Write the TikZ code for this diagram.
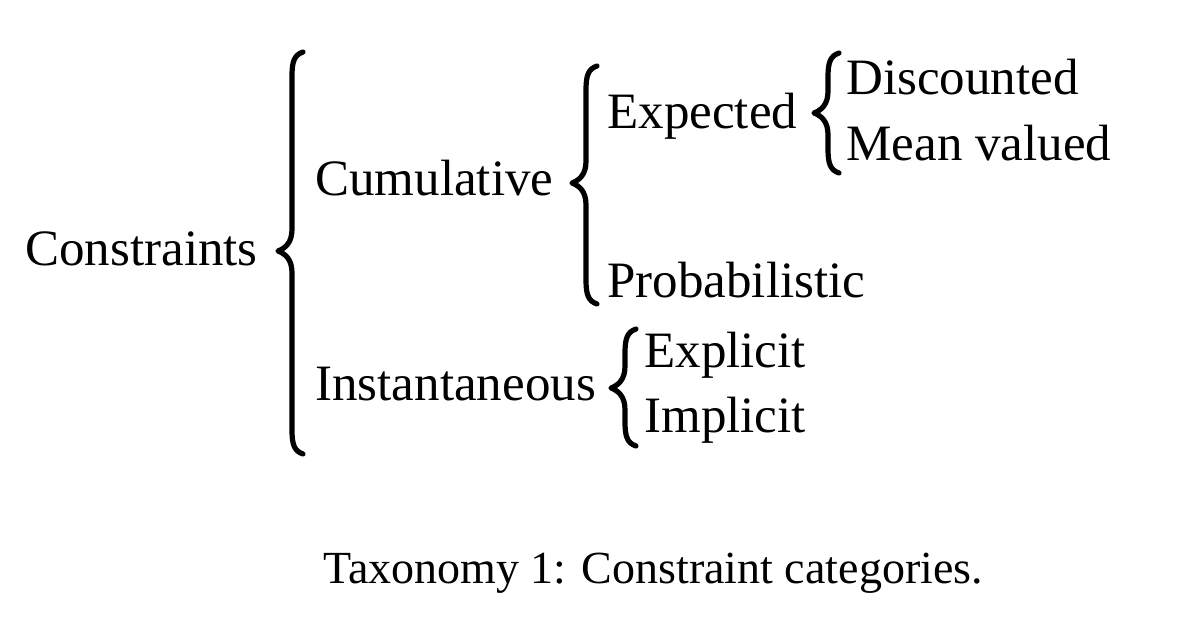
\documentclass[tikz,border=0pt]{standalone}
\usepackage{fontspec}
\setmainfont{Liberation Serif}
\begin{document}
\begin{tikzpicture}[x=0.5pt,y=-0.5pt,
  lbl/.style={anchor=base west,inner sep=0pt,font=\fontsize{25.5}{30}\selectfont},
  captiontext/.style={anchor=base,inner sep=0pt,font=\fontsize{23}{28}\selectfont},
  bracestroke/.style={line width=2.6pt,line cap=round,line join=round}]
\useasboundingbox (0,0) rectangle (1186,626);
% \tbrace{x of vertical}{top}{tip}{bottom}
\newcommand{\tbrace}[4]{%
  \draw[bracestroke] (#1+11,#2) .. controls (#1+2,#2+3) and (#1,#2+10) .. (#1,#2+24)
    -- (#1,#3-22) .. controls (#1,#3-9) and (#1-6,#3-3) .. (#1-14,#3)
    .. controls (#1-6,#3+3) and (#1,#3+9) .. (#1,#3+22)
    -- (#1,#4-24) .. controls (#1,#4-10) and (#1+2,#4-3) .. (#1+11,#4);}
\node[lbl] (constraints) at (25,265) {Constraints};
\node[lbl] (cumulative) at (315,195) {Cumulative};
\node[lbl] (instant) at (315,400) {Instantaneous};
\node[lbl] (expected) at (607,128) {Expected};
\node[lbl] (probab) at (607,297) {Probabilistic};
\node[lbl] (discounted) at (846,95) {Discounted};
\node[lbl] (meanvalued) at (846,160) {Mean valued};
\node[lbl] (explicit) at (644,367) {Explicit};
\node[lbl] (implicit) at (644,432) {Implicit};
\node[captiontext] (caption) at (653,583) {Taxonomy 1: Constraint categories.};
\tbrace{292}{52}{251}{454}
\tbrace{586}{66}{183}{304}
\tbrace{828}{53}{113}{173}
\tbrace{625}{329}{388}{446}
\end{tikzpicture}
\end{document}
